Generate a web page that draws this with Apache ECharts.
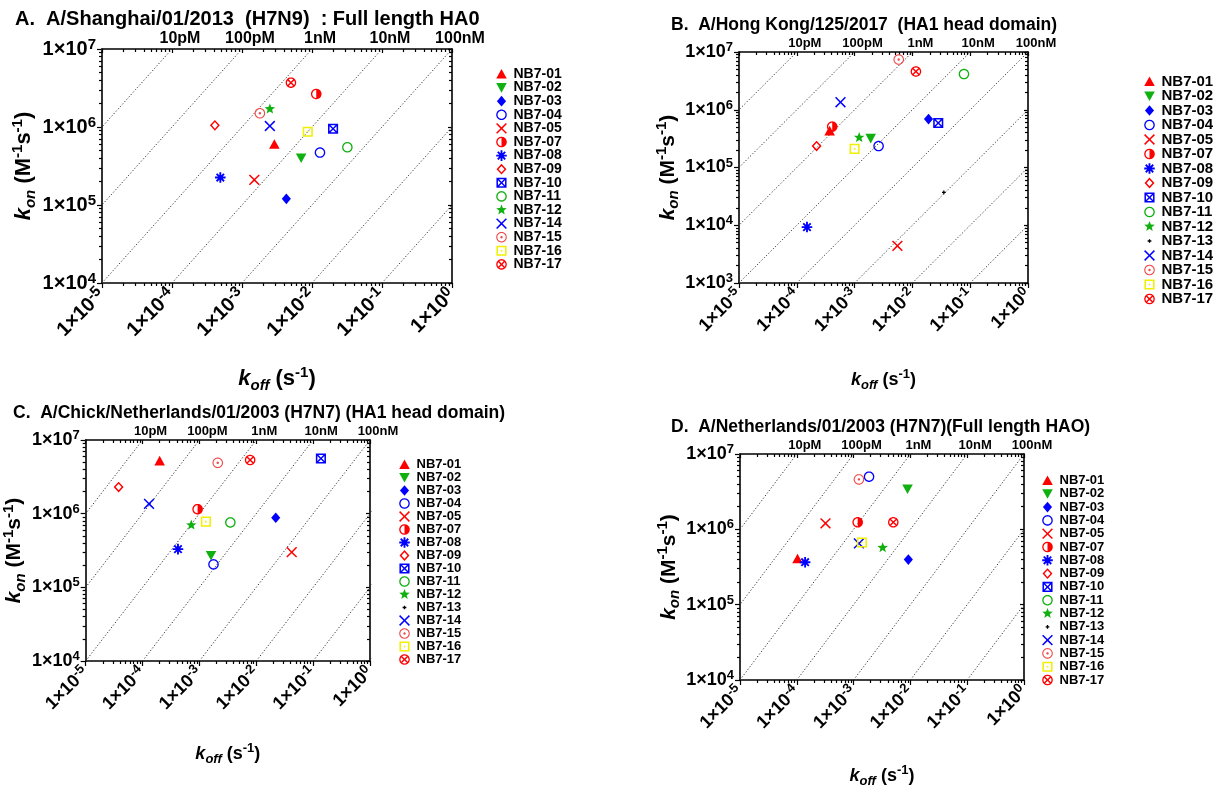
<!DOCTYPE html>
<html><head><meta charset="utf-8">
<script src="https://cdn.jsdelivr.net/npm/echarts@6/dist/echarts.min.js"></script>
<style>html,body{margin:0;padding:0;background:#fff}#c{width:1224px;height:789px}</style>
</head><body><div id="c"></div>
<script>
// ---------------- DATA ----------------
const names = ['NB7-01','NB7-02','NB7-03','NB7-04','NB7-05','NB7-07','NB7-08','NB7-09','NB7-10','NB7-11','NB7-12','NB7-13','NB7-14','NB7-15','NB7-16','NB7-17'];

// Panel A: A/Shanghai/01/2013 (H7N9) full length HA0
const koffA = [2.9e-3, 7.0e-3, 4.3e-3, 1.3e-2, 1.5e-3, 1.15e-2, 4.9e-4, 4.1e-4, 2.0e-2, 3.2e-2, 2.5e-3, null, 2.5e-3, 1.8e-3, 8.7e-3, 5.0e-3];
const konA  = [6.0e5, 4.0e5, 1.2e5, 4.7e5, 2.1e5, 2.65e6, 2.25e5, 1.05e6, 9.5e5, 5.5e5, 1.7e6, null, 1.03e6, 1.5e6, 8.7e5, 3.7e6];

// Panel B: A/Hong Kong/125/2017 (HA1 head domain)
const koffB = [3.7e-4, 1.9e-3, 1.9e-2, 2.6e-3, 5.5e-3, 4.1e-4, 1.5e-4, 2.2e-4, 2.8e-2, 7.8e-2, 1.2e-3, 3.5e-2, 5.7e-4, 5.8e-3, 1.0e-3, 1.15e-2];
const konB  = [4.3e5, 3.2e5, 6.9e5, 2.35e5, 4.4e3, 5.1e5, 9.3e3, 2.35e5, 5.9e5, 4.15e6, 3.3e5, 3.7e4, 1.35e6, 7.4e6, 2.1e5, 4.6e6];

// Panel C: A/Chick/Netherlands/01/2003 (H7N7) (HA1 head domain)
const koffC = [2.0e-4, 1.6e-3, 2.2e-2, 1.77e-3, 4.2e-2, 9.3e-4, 4.2e-4, 3.8e-5, 0.137, 3.5e-3, 7.2e-4, null, 1.3e-4, 2.1e-3, 1.3e-3, 7.8e-3];
const konC  = [5.2e6, 2.7e5, 8.8e5, 2.05e5, 3.0e5, 1.15e6, 3.3e5, 2.3e6, 5.6e6, 7.6e5, 7.0e5, null, 1.36e6, 4.9e6, 7.8e5, 5.35e6];

// Panel D: A/Netherlands/01/2003 (H7N7) full length HA0
const koffD = [1.03e-4, 8.9e-3, 9.2e-3, 1.87e-3, 3.2e-4, 1.18e-3, 1.4e-4, null, null, null, 3.25e-3, null, 1.24e-3, 1.24e-3, 1.4e-3, 5.0e-3];
const konD  = [4.06e5, 3.43e6, 3.97e5, 5.0e6, 1.2e6, 1.24e6, 3.66e5, null, null, null, 5.7e5, null, 6.5e5, 4.6e6, 6.7e5, 1.24e6];

// iso-affinity lines (KD = koff / kon, in M) and top labels
const kdValues = [1e-12, 1e-11, 1e-10, 1e-9, 1e-8, 1e-7, 1e-6, 1e-5, 1e-4, 1e-3];
const kdLabelKoff = [1e-4, 1e-3, 1e-2, 1e-1, 1];
const kdLabels = ['10pM', '100pM', '1nM', '10nM', '100nM'];

const titles = [
  'A.  A/Shanghai/01/2013  (H7N9)  : Full length HA0',
  'B.  A/Hong Kong/125/2017  (HA1 head domain)',
  'C.  A/Chick/Netherlands/01/2003 (H7N7) (HA1 head domain)',
  'D.  A/Netherlands/01/2003 (H7N7)(Full length HAO)'
];
const xRange = [1e-5, 1];
const yRangeA = [1e4, 1e7], yRangeB = [1e3, 1e7], yRangeC = [1e4, 1e7], yRangeD = [1e4, 1e7];

// ---------------- STYLE ----------------
const FF = '"Liberation Sans", Arial, Helvetica, sans-serif';
function fmt(v){ return (+v).toFixed(2); }
function poly(pts){ return pts.map((p,k)=>(k?'L':'M')+fmt(p[0])+','+fmt(p[1])).join('')+'Z'; }
function circle(cx,cy,r,ccw){ const n=48, pts=[]; for(let k=0;k<n;k++){ const a=(ccw?-1:1)*2*Math.PI*k/n-Math.PI/2; pts.push([cx+r*Math.cos(a), cy+r*Math.sin(a)]); } return poly(pts); }
function halfDisc(cx,cy,r){ const n=24, pts=[]; for(let k=0;k<=n;k++){ const a=-Math.PI/2+Math.PI*k/n; pts.push([cx+r*Math.cos(a), cy+r*Math.sin(a)]); } return poly(pts); }
function plusPts(a,w){ return [[-w,-a],[w,-a],[w,-w],[a,-w],[a,w],[w,w],[w,a],[-w,a],[-w,w],[-a,w],[-a,-w],[-w,-w]]; }
function rot(pts,deg){ const t=deg*Math.PI/180,c=Math.cos(t),s=Math.sin(t); return pts.map(p=>[p[0]*c-p[1]*s, p[0]*s+p[1]*c]); }
function shift(pts){ return pts.map(p=>[p[0]+10,p[1]+10]); }
function starPts(R,r){ const pts=[]; for(let k=0;k<10;k++){ const a=-Math.PI/2+Math.PI*k/5, rr=k%2?r:R; pts.push([10+rr*Math.cos(a),10+rr*Math.sin(a)]); } return pts; }
const FRAME = 'M0,0M20,20';
const ring = circle(10,10,9.6,false)+circle(10,10,7.2,true);
const sqRing = poly([[0.8,0.8],[19.2,0.8],[19.2,19.2],[0.8,19.2]])+poly([[3.6,3.6],[3.6,16.4],[16.4,16.4],[16.4,3.6]]);
const shapes = {
  triUp: poly([[10,0.8],[19.6,18.2],[0.4,18.2]]),
  triDown: poly([[0.4,1.8],[19.6,1.8],[10,19.2]]),
  diamond: poly([[10,0.3],[18.3,10],[10,19.7],[1.7,10]]),
  diamondRing: poly([[10,0.2],[19,10],[10,19.8],[1,10]])+poly([[10,4.0],[4.6,10],[10,16.0],[15.4,10]]),
  ring: ring,
  ringHalf: ring+halfDisc(10,10,7.2),
  ringDot: circle(10,10,9.6,false)+circle(10,10,7.6,true)+circle(10,10,2.2,false),
  ringX: ring+poly(shift(rot(plusPts(7.2,1.3),45))),
  boxX: sqRing+poly(shift(rot(plusPts(9,1.3),45))),
  boxDot: sqRing+poly([[8.6,8.6],[11.4,8.6],[11.4,11.4],[8.6,11.4]]),
  cross: poly(shift(rot(plusPts(12.6,1.35),45))),
  asterisk: poly(shift(plusPts(9.6,1.7)))+poly(shift(rot(plusPts(9.6,1.7),45))),
  plusSmall: poly(shift(plusPts(3.4,1.2))),
  star: poly(starPts(10,4.3))
};
const symStyle = {
  'NB7-01':['triUp','#ff0000'], 'NB7-02':['triDown','#10b010'], 'NB7-03':['diamond','#0000ff'],
  'NB7-04':['ring','#0000ff'], 'NB7-05':['cross','#ff0000'], 'NB7-07':['ringHalf','#ff0000'],
  'NB7-08':['asterisk','#0000ff'], 'NB7-09':['diamondRing','#ff0000'], 'NB7-10':['boxX','#0000ff'],
  'NB7-11':['ring','#10b010'], 'NB7-12':['star','#10b010'], 'NB7-13':['plusSmall','#000000'],
  'NB7-14':['cross','#0000ff'], 'NB7-15':['ringDot','#f04848'], 'NB7-16':['boxDot','#f0f000'],
  'NB7-17':['ringX','#ff0000']
};

const panels = [
  {koff:koffA, kon:konA, yr:yRangeA, legendNames:names.filter(n=>n!=='NB7-13'),
   grid:{left:102,top:49,width:350,height:234}, tl:{left:10,top:4,fs:20},
   tickFs:20, yNameFs:22, xNameFs:22, kdFs:16, lg:{left:491,top:62,gap:-0.4,fs:14}, yNameGap:64, xNameGap:82, sym:11},
  {koff:koffB, kon:konB, yr:yRangeB, legendNames:names,
   grid:{left:739,top:52,width:289,height:231}, tl:{left:666,top:11,fs:17.5},
   tickFs:18, yNameFs:21, xNameFs:18, kdFs:13, lg:{left:1139,top:69,gap:-0.5,fs:15}, yNameGap:52, xNameGap:85, sym:11},
  {koff:koffC, kon:konC, yr:yRangeC, legendNames:names,
   grid:{left:82,top:440,width:288,height:221}, tl:{left:8,top:399,fs:17.5},
   tickFs:18, yNameFs:21, xNameFs:18, kdFs:13, lg:{left:394,top:453,gap:0,fs:13}, yNameGap:53, xNameGap:81, sym:11},
  {koff:koffD, kon:konD, yr:yRangeD, legendNames:names,
   grid:{left:740,top:454,width:284,height:227}, tl:{left:666,top:413,fs:17.5},
   tickFs:18, yNameFs:21, xNameFs:18, kdFs:13, lg:{left:1037,top:469,gap:0.3,fs:13}, yNameGap:51, xNameGap:84, sym:11}
];

function minors(lo,hi){ const out=[]; for(let e=Math.round(Math.log10(lo)); e<Math.round(Math.log10(hi)); e++) for(let m=2;m<=9;m++) out.push(m*Math.pow(10,e)); return out; }
function expLabel(v){ return '{b|1×10}{s|' + Math.round(Math.log10(v)) + '}'; }
function expRich(fs){ const s=Math.round(fs*0.74); return {
  b:{fontSize:fs,fontWeight:'bold',fontFamily:FF,color:'#000',lineHeight:fs+4},
  s:{fontSize:s,fontWeight:'bold',fontFamily:FF,color:'#000',verticalAlign:'top',lineHeight:s+2}}; }
function nameRich(fs){ const s=Math.round(fs*0.7); return {
  k:{fontSize:fs,fontWeight:'bold',fontStyle:'italic',fontFamily:FF,color:'#000',lineHeight:fs+6},
  sub:{fontSize:s,fontWeight:'bold',fontStyle:'italic',fontFamily:FF,color:'#000',verticalAlign:'bottom',lineHeight:s+2},
  b:{fontSize:fs,fontWeight:'bold',fontFamily:FF,color:'#000',lineHeight:fs+6},
  sup:{fontSize:s,fontWeight:'bold',fontFamily:FF,color:'#000',verticalAlign:'top',lineHeight:s+2}}; }
function kdLabel(v){ const i = kdLabelKoff.findIndex(k=>Math.abs(Math.log10(k)-Math.log10(v))<1e-6); return i<0?'':kdLabels[i]; }

const LS = {color:'#000', width:1.6};
const TS = {color:'#000', width:1.2};
const xAxis=[], yAxis=[], grid=[], series=[], title=[], legend=[];
panels.forEach((p,i)=>{
  grid.push(Object.assign({containLabel:false}, p.grid));
  title.push({text:titles[i], left:p.tl.left, top:p.tl.top, textStyle:{fontSize:p.tl.fs,fontWeight:'bold',fontFamily:FF,color:'#000'}});
  legend.push({orient:'vertical', left:p.lg.left, top:p.lg.top, itemWidth:14, itemHeight:11, itemGap:p.lg.gap, selectedMode:false,
    data:p.legendNames, textStyle:{fontSize:p.lg.fs,fontWeight:'bold',fontFamily:FF,color:'#000',lineHeight:12}});
  const xb = {gridIndex:i, type:'log', logBase:10, min:xRange[0], max:xRange[1], splitLine:{show:false}, silent:true};
  const xMin = minors(xRange[0], xRange[1]);
  xAxis.push(Object.assign({}, xb, {position:'bottom', axisLine:{show:true,lineStyle:LS},
     axisTick:{show:true,length:5,lineStyle:TS},
     axisLabel:{show:true,rotate:45,margin:9,formatter:expLabel,rich:expRich(p.tickFs)},
     name:'{k|k}{sub|off}{b| (s}{sup|-1}{b|)}', nameLocation:'middle', nameGap:p.xNameGap, nameTextStyle:{rich:nameRich(p.xNameFs)}}));
  xAxis.push(Object.assign({}, xb, {position:'bottom', axisLine:{show:false}, axisTick:{show:true,length:3,customValues:xMin,lineStyle:TS}, axisLabel:{show:false}}));
  xAxis.push(Object.assign({}, xb, {position:'top', axisLine:{show:true,lineStyle:LS}, axisTick:{show:true,inside:true,length:4,lineStyle:TS},
     axisLabel:{show:true,margin:2,formatter:kdLabel,fontSize:p.kdFs,fontWeight:'bold',fontFamily:FF,color:'#000',padding:[0,0,0,16]}}));
  xAxis.push(Object.assign({}, xb, {position:'top', axisLine:{show:false}, axisTick:{show:true,inside:true,length:3,customValues:xMin,lineStyle:TS}, axisLabel:{show:false}}));
  const yb = {gridIndex:i, type:'log', logBase:10, min:p.yr[0], max:p.yr[1], splitLine:{show:false}, silent:true};
  const yMin = minors(p.yr[0], p.yr[1]);
  yAxis.push(Object.assign({}, yb, {position:'left', axisLine:{show:true,lineStyle:LS}, axisTick:{show:true,length:5,lineStyle:TS},
     axisLabel:{show:true,margin:6,formatter:expLabel,rich:expRich(p.tickFs)},
     name:'{k|k}{sub|on}{b| (M}{sup|-1}{b|s}{sup|-1}{b|)}', nameLocation:'middle', nameRotate:90, nameGap:p.yNameGap, nameTextStyle:{rich:nameRich(p.yNameFs)}}));
  yAxis.push(Object.assign({}, yb, {position:'left', axisLine:{show:false}, axisTick:{show:true,length:3,customValues:yMin,lineStyle:TS}, axisLabel:{show:false}}));
  yAxis.push(Object.assign({}, yb, {position:'right', axisLine:{show:true,lineStyle:LS}, axisTick:{show:true,inside:true,length:4,lineStyle:TS}, axisLabel:{show:false}}));
  yAxis.push(Object.assign({}, yb, {position:'right', axisLine:{show:false}, axisTick:{show:true,inside:true,length:3,customValues:yMin,lineStyle:TS}, axisLabel:{show:false}}));

  kdValues.forEach(kd=>{
    series.push({type:'line', name:'KD', xAxisIndex:4*i, yAxisIndex:4*i, silent:true, clip:true, z:1, symbol:'none',
      data:[[kd*p.yr[0], p.yr[0]], [kd*p.yr[1], p.yr[1]]],
      lineStyle:{color:'#333', width:1, type:[1.2,2]}});
  });
  names.forEach((n,j)=>{
    if (p.koff[j]==null && n!=='NB7-13') return;
    const st = symStyle[n];
    series.push({type:'scatter', name:n, xAxisIndex:4*i, yAxisIndex:4*i, z:3,
      symbol:'path://'+FRAME+shapes[st[0]], symbolSize:p.sym,
      itemStyle:{color:st[1], opacity:1}, emphasis:{disabled:true},
      data: p.koff[j]==null ? [] : [[p.koff[j], p.kon[j]]]});
  });
});

const chart = echarts.init(document.getElementById('c'), null, {renderer:'canvas'});
chart.setOption({animation:false, backgroundColor:'#fff', title, legend, grid, xAxis, yAxis, series});
</script></body></html>
